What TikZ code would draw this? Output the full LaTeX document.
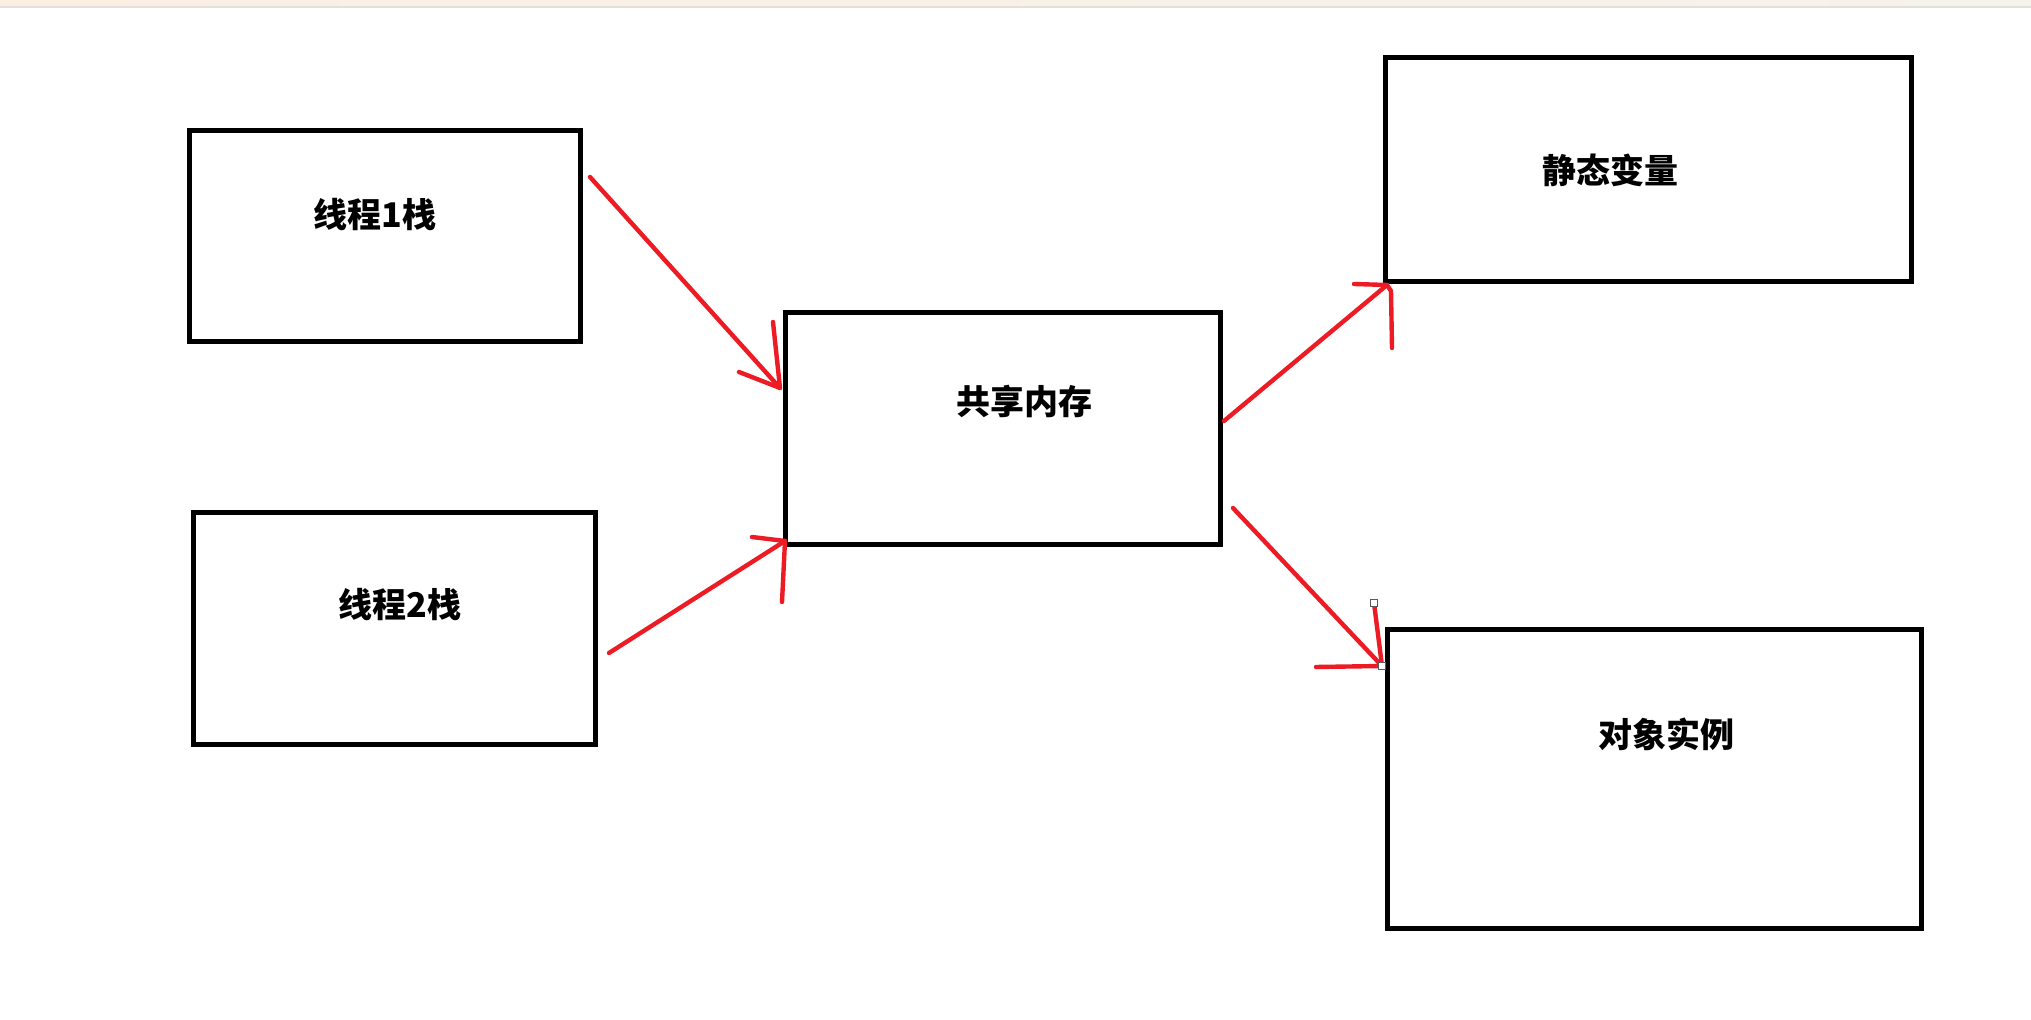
\documentclass[tikz,border=0pt]{standalone}
\usepackage{fontspec}
\newfontfamily\cjk{Noto Sans CJK SC}
\usetikzlibrary{fit}
\definecolor{pred}{RGB}{237,28,36}
\definecolor{barl}{RGB}{251,239,228}
\definecolor{barr}{RGB}{246,242,236}
\definecolor{barline}{RGB}{226,224,216}
\definecolor{hgrey}{RGB}{90,90,90}
\tikzset{
  box/.style={draw=black, line width=2.5pt, inner sep=0pt},
  lbl/.style={font=\cjk\bfseries\fontsize{17}{20}\selectfont, inner sep=0pt},
  redline/.style={draw=pred, line width=2.2pt, line cap=round, line join=round},
  handle/.style={draw=hgrey, fill=white, line width=0.6pt, minimum size=3.5pt, inner sep=0pt}
}
\begin{document}
\begin{tikzpicture}[x=0.5pt,y=-0.5pt]
\useasboundingbox (0,0) rectangle (2031,1020);
\fill[white] (0,0) rectangle (2031,1020);
\fill[left color=barl, right color=barr] (0,0) rectangle (2031,7);
\draw[barline, line width=0.8pt] (0,7) -- (2031,7);

\coordinate (t1a) at (189,131); \coordinate (t1b) at (580,342);
\coordinate (t2a) at (193,513); \coordinate (t2b) at (595,745);
\coordinate (sma) at (785,313); \coordinate (smb) at (1220,545);
\coordinate (sva) at (1385,58); \coordinate (svb) at (1911,282);
\coordinate (oia) at (1387,630); \coordinate (oib) at (1921,929);
\node[box, fit=(t1a)(t1b)] (t1) {};
\node[box, fit=(t2a)(t2b)] (t2) {};
\node[box, fit=(sma)(smb)] (sm) {};
\node[box, fit=(sva)(svb)] (sv) {};
\node[box, fit=(oia)(oib)] (oi) {};

\node[lbl] (t1l) at (375,215) {线程1栈};
\node[lbl] (t2l) at (400,605) {线程2栈};
\node[lbl] (sml) at (1024,401) {共享内存};
\node[lbl] (svl) at (1610,170) {静态变量};
\node[lbl] (oil) at (1666,734) {对象实例};

% arrow 1
\coordinate (a1s) at (590,177);
\coordinate (a1e) at (780,388);
\coordinate (a1p) at (773,322);
\coordinate (a1q) at (739,372);
\draw[redline] (a1s) -- (a1e);
\draw[redline] (a1p) -- (a1e) -- (a1q);
% arrow 2
\coordinate (a2s) at (609,653);
\coordinate (a2e) at (785,541);
\coordinate (a2p) at (752,537);
\coordinate (a2q) at (782,602);
\draw[redline] (a2s) -- (a2e);
\draw[redline] (a2p) -- (a2e) -- (a2q);
% arrow 3
\coordinate (a3s) at (1224,421);
\coordinate (a3e) at (1387,285);
\coordinate (a3p) at (1354,284);
\coordinate (a3q) at (1392,348);
\draw[redline] (a3s) -- (a3e);
\draw[redline] (a3p) -- (a3e) -- (1391,291) -- (a3q);
% arrow 4
\coordinate (a4s) at (1233,508);
\coordinate (a4e) at (1382,666);
\coordinate (a4p) at (1316,667);
\coordinate (a4q) at (1374,603);
\draw[redline] (a4s) -- (a4e);
\draw[redline] (a4p) -- (a4e) -- (a4q);
\node[handle] (h1) at (a4q) {};
\node[handle] (h2) at (a4e) {};
\end{tikzpicture}
\end{document}
